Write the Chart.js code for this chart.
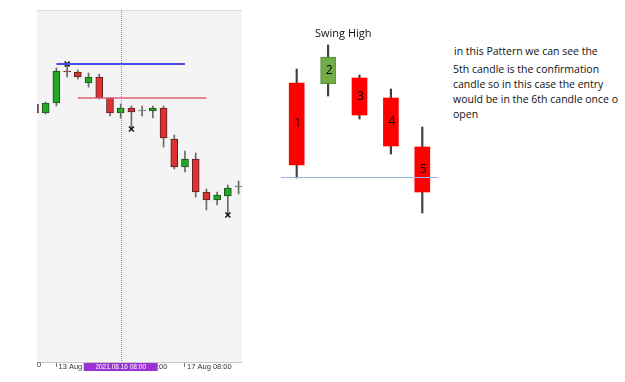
<!DOCTYPE html>
<html>
<head>
<meta charset="utf-8">
<script src="https://cdn.jsdelivr.net/npm/chart.js@4.4.1/dist/chart.umd.min.js"></script>
<style>
  body { margin: 0; width: 625px; height: 382px; overflow: hidden; background: #fff; position: relative; font-family: "Open Sans", sans-serif; }
  #leftBox { position: absolute; left: 37px; top: 10px; width: 205px; height: 365px; }
  #rightBox { position: absolute; left: 281px; top: 20px; width: 157px; height: 210px; }
  .txt { position: absolute; white-space: nowrap; color: #111; }
  #swing { left: 315px; top: 25px; font-size: 11px; }
  #note { left: 453px; top: 44px; font-size: 10.5px; line-height: 15px; }
  #note .first { margin-bottom: 3px; padding-left: 1px; }
  #zero { left: 37px; top: 360px; font-family: "Liberation Sans", sans-serif; font-size: 7.5px; color: #333; }
</style>
</head>
<body>
<div id="leftBox"><canvas id="chartLeft"></canvas></div>
<div id="rightBox"><canvas id="chartRight"></canvas></div>
<div class="txt" id="swing">Swing High</div>
<div class="txt" id="note">
  <div class="first">in this Pattern we can see the</div>
  <div>5th candle is the confirmation</div>
  <div>candle so in this case the entry</div>
  <div>would be in the 6th candle once o</div>
  <div>open</div>
</div>
<div class="txt" id="zero">0</div>

<script>
// left screenshot chart (price in chart units, candle index 1..20)
var opens  = [296, 287, 297, 329, 328, 317, 323, 302, 287, 292, 289, 289, 292, 261, 233, 241, 208, 200, 204, 213];
var closes = [287, 297, 329, 328, 323, 323, 302, 287, 292, 288, 289, 292, 262, 233, 241, 208, 200, 205, 212, 213];
var highs  = [297, 298, 332, 336, 330, 327, 326, 302, 296, 294, 294, 294, 294, 265, 249, 247, 211, 208, 215, 219];
var lows   = [286, 286, 294, 323, 321, 313, 301, 284, 282, 271, 284, 282, 253, 231, 228, 203, 190, 195, 185, 206];

var tickIdx = [3, 9, 15];
var tickText = ["13 Aug", "16 Aug 08:00", "17 Aug 08:00"];
var crossIdx = 9;
var crossLabel = "2021.08.16 08:00";

var fractalIdx = [4, 10, 19];
var fractalSide = ["high", "low", "low"];

var blueLine = [3, 15, 336];   // from candle, to candle, level
var pinkLine = [5, 17, 302];

// right pattern sketch
var swingNames = ["1", "2", "3", "4", "5"];
var sOpen  = [317, 316, 322, 302, 253];
var sClose = [235, 343, 285, 254, 208];
var sHigh  = [331, 355, 325, 311, 273];
var sLow   = [222, 304, 281, 246, 187];
var supportLevel = 223;

window.onload = function() {
  montarGraficos();
};

function montarGraficos() {
  Chart.defaults.font.family = "Open Sans";
  Chart.defaults.animation = false;

  var bodyColors = [], bodyBorders = [];
  for (var i = 0; i < opens.length; i++) {
    if (closes[i] > opens[i]) { bodyColors.push("#22a822"); bodyBorders.push("#1f4f1f"); }
    else if (closes[i] < opens[i]) { bodyColors.push("#dc3232"); bodyBorders.push("#5a1f1f"); }
    else { bodyColors.push("#777"); bodyBorders.push("#777"); }
  }

  var bodies = opens.map(function(o, i) { return { x: i + 1, y: [o, closes[i]] }; });
  var wicks = lows.map(function(l, i) { return { x: i + 1, y: [l, highs[i]] }; });
  var marks = fractalIdx.map(function(k, j) {
    return { x: k, y: fractalSide[j] == "high" ? highs[k - 1] : lows[k - 1] };
  });

  var fundo = {
    id: "fundo",
    beforeDraw: function(chart) {
      var a = chart.chartArea, c = chart.ctx;
      c.save();
      c.fillStyle = "#f4f4f4";
      c.fillRect(a.left, a.top, a.right - a.left, a.bottom - a.top);
      c.strokeStyle = "#dcdcdc";
      c.lineWidth = 1;
      c.beginPath(); c.moveTo(a.left, a.top + 0.5); c.lineTo(a.right, a.top + 0.5); c.stroke();
      c.restore();
    },
    afterDatasetsDraw: function(chart) {
      var a = chart.chartArea, c = chart.ctx;
      var x = Math.round(chart.scales.x.getPixelForValue(crossIdx)) + 0.5;
      c.save();
      c.strokeStyle = "#b45ef2";
      c.setLineDash([1, 1]);
      c.lineWidth = 1;
      c.beginPath(); c.moveTo(x, a.top); c.lineTo(x, a.bottom); c.stroke();
      c.restore();
    },
    afterDraw: function(chart) {
      var a = chart.chartArea, c = chart.ctx;
      var x = chart.scales.x.getPixelForValue(crossIdx);
      c.save();
      c.fillStyle = "#9a33d6";
      c.fillRect(x - 37, a.bottom + 1, 74, 8);
      c.fillStyle = "#fff";
      c.font = "6.5px 'Liberation Sans'";
      c.textAlign = "center";
      c.textBaseline = "middle";
      c.fillText(crossLabel, x, a.bottom + 5);
      c.restore();
    }
  };

  var ctx = document.getElementById("chartLeft").getContext("2d");
  var chart = new Chart(ctx, {
    type: "bar",
    data: {
      datasets: [
        {
          label: "Bodies",
          data: bodies,
          backgroundColor: bodyColors,
          borderColor: bodyBorders,
          borderWidth: 1,
          borderSkipped: false,
          barThickness: 7,
          minBarLength: 1,
          grouped: false,
          order: 1
        },
        {
          label: "Wicks",
          data: wicks,
          backgroundColor: "#6a6a6a",
          borderWidth: 0,
          barThickness: 1,
          grouped: false,
          order: 2
        },
        {
          type: "line",
          label: "Resistance",
          data: [{ x: blueLine[0], y: blueLine[2] }, { x: blueLine[1], y: blueLine[2] }],
          borderColor: "#4a4ae8",
          borderWidth: 2,
          pointRadius: 0,
          order: 0
        },
        {
          type: "line",
          label: "Level",
          data: [{ x: pinkLine[0], y: pinkLine[2] }, { x: pinkLine[1], y: pinkLine[2] }],
          borderColor: "#e0607a",
          borderWidth: 1.5,
          pointRadius: 0,
          order: 0
        },
        {
          type: "line",
          label: "Fractals",
          data: marks,
          showLine: false,
          pointStyle: "crossRot",
          pointRadius: 3.5,
          borderColor: "#111",
          borderWidth: 1.5,
          order: 0
        }
      ]
    },
    options: {
      responsive: true,
      maintainAspectRatio: false,
      layout: { padding: 0, autoPadding: false },
      plugins: { legend: { display: false }, tooltip: { enabled: false } },
      scales: {
        x: {
          type: "linear",
          min: 1.19,
          max: 20.32,
          offset: false,
          afterBuildTicks: function(axis) {
            axis.ticks = tickIdx.map(function(v) { return { value: v }; });
          },
          afterFit: function(axis) { axis.height = 13; },
          grid: { offset: false, drawOnChartArea: false, tickLength: 5, color: "#777" },
          border: { display: true, color: "#c8c8c8" },
          ticks: {
            autoSkip: false,
            maxRotation: 0,
            align: "start",
            padding: -5,
            color: "#333",
            font: { family: "Liberation Sans", size: 7.5 },
            callback: function(v) {
              var k = tickIdx.indexOf(v);
              return k >= 0 ? " " + tickText[k] : "";
            }
          }
        },
        y: { display: false, min: 38, max: 390 }
      }
    },
    plugins: [fundo]
  });

  // pattern sketch on the right
  var sColors = [], sBorders = [];
  for (var j = 0; j < sOpen.length; j++) {
    if (sClose[j] > sOpen[j]) { sColors.push("#70ad47"); sBorders.push(1); }
    else { sColors.push("#ff0000"); sBorders.push(0); }
  }

  var rotulos = {
    id: "rotulos",
    afterDatasetsDraw: function(chart) {
      var a = chart.chartArea, c = chart.ctx;
      var yl = Math.round(chart.scales.y.getPixelForValue(supportLevel)) + 0.5;
      c.save();
      c.strokeStyle = "#8db8e4";
      c.lineWidth = 1;
      c.beginPath(); c.moveTo(a.left, yl); c.lineTo(a.right, yl); c.stroke();
      var meta = chart.getDatasetMeta(0);
      c.fillStyle = "#000";
      c.font = "12px 'Open Sans'";
      c.textAlign = "center";
      c.textBaseline = "middle";
      meta.data.forEach(function(el, k) {
        c.fillText(swingNames[k], el.x + 1, (el.y + el.base) / 2);
      });
      c.restore();
    }
  };

  var ctx2 = document.getElementById("chartRight").getContext("2d");
  var chart2 = new Chart(ctx2, {
    type: "bar",
    data: {
      labels: swingNames,
      datasets: [
        {
          label: "Body",
          data: sOpen.map(function(o, k) { return [o, sClose[k]]; }),
          backgroundColor: sColors,
          borderColor: "#548235",
          borderWidth: sBorders,
          borderSkipped: false,
          barThickness: 15,
          grouped: false,
          order: 1
        },
        {
          label: "Wick",
          data: sLow.map(function(l, k) { return [l, sHigh[k]]; }),
          backgroundColor: "#404040",
          borderWidth: 0,
          barThickness: 1.5,
          grouped: false,
          order: 2
        }
      ]
    },
    options: {
      responsive: true,
      maintainAspectRatio: false,
      layout: { padding: 0, autoPadding: false },
      plugins: { legend: { display: false }, tooltip: { enabled: false } },
      scales: {
        x: { display: false },
        y: { display: false, min: 170, max: 380 }
      }
    },
    plugins: [rotulos]
  });
}
</script>
</body>
</html>
